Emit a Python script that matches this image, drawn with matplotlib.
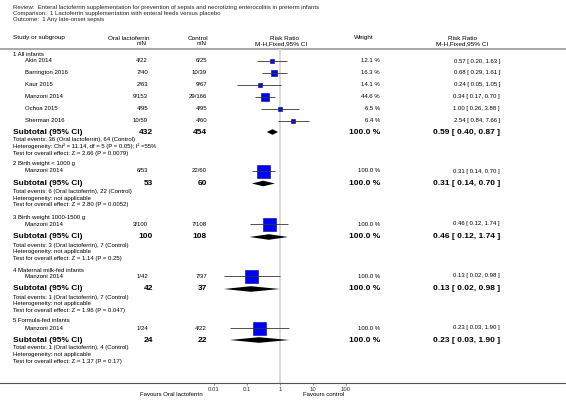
import matplotlib
matplotlib.use("Agg")
import matplotlib.pyplot as plt
import numpy as np

plt.rcParams["font.family"] = ["Liberation Sans", "DejaVu Sans"]

# ---- data ----
review = "Review:  Enteral lactoferrin supplementation for prevention of sepsis and necrotizing enterocolitis in preterm infants"
comparison = "Comparison:  1 Lactoferrin supplementation with enteral feeds versus placebo"
outcome = "Outcome:  1 Any late-onset sepsis"

group_titles = ["1 All infants", "2 Birth weight < 1000 g", "3 Birth weight 1000-1500 g",
                "4 Maternal milk-fed infants", "5 Formula-fed infants"]

studies = [
    ["Akin 2014", "Barrington 2016", "Kaur 2015", "Manzoni 2014", "Ochoa 2015", "Sherman 2016"],
    ["Manzoni 2014"], ["Manzoni 2014"], ["Manzoni 2014"], ["Manzoni 2014"],
]
treat_nN = [["4/22", "7/40", "2/63", "9/153", "4/95", "10/59"], ["6/53"], ["3/100"], ["1/42"], ["1/24"]]
ctrl_nN = [["6/25", "10/39", "9/67", "29/166", "4/95", "4/60"], ["22/60"], ["7/108"], ["7/37"], ["4/22"]]
weights = [[12.1, 16.3, 14.1, 44.6, 6.5, 6.4], [100.0], [100.0], [100.0], [100.0]]
rr = [[0.57, 0.68, 0.24, 0.34, 1.00, 2.54], [0.31], [0.46], [0.13], [0.23]]
rr_lo = [[0.20, 0.29, 0.05, 0.17, 0.26, 0.84], [0.14], [0.12], [0.02], [0.03]]
rr_hi = [[1.63, 1.61, 1.05, 0.70, 3.88, 7.66], [0.70], [1.74], [0.98], [1.90]]

sub_treat_N = [432, 53, 100, 42, 24]
sub_ctrl_N = [454, 60, 108, 37, 22]
sub_rr = [0.59, 0.31, 0.46, 0.13, 0.23]
sub_lo = [0.40, 0.14, 0.12, 0.02, 0.03]
sub_hi = [0.87, 0.70, 1.74, 0.98, 1.90]

footnotes = [
    ["Total events: 36 (Oral lactoferrin), 64 (Control)",
     "Heterogeneity: Chi\u00b2 = 11.14, df = 5 (P = 0.05); I\u00b2 =55%",
     "Test for overall effect: Z = 2.66 (P = 0.0079)"],
    ["Total events: 6 (Oral lactoferrin), 22 (Control)",
     "Heterogeneity: not applicable",
     "Test for overall effect: Z = 2.80 (P = 0.0052)"],
    ["Total events: 3 (Oral lactoferrin), 7 (Control)",
     "Heterogeneity: not applicable",
     "Test for overall effect: Z = 1.14 (P = 0.25)"],
    ["Total events: 1 (Oral lactoferrin), 7 (Control)",
     "Heterogeneity: not applicable",
     "Test for overall effect: Z = 1.96 (P = 0.047)"],
    ["Total events: 1 (Oral lactoferrin), 4 (Control)",
     "Heterogeneity: not applicable",
     "Test for overall effect: Z = 1.37 (P = 0.17)"],
]

tick_vals = [0.01, 0.1, 1, 10, 100]
tick_labels = ["0.01", "0.1", "1", "10", "100"]

# ---- layout (pixels) ----
W, H = 566, 413
AXIS_Y = 383
X_ONE = 280
DECADE = 33
group_y = [54, 164, 218, 270, 321]
study_y = [[61, 72.5, 84.5, 96.5, 108.5, 120.5], [171], [224], [276], [328]]
sub_y = [132, 183.5, 237, 289, 340]
FOOT_DY = 6.6

FS = 4.3
FS_B = 6.0
col_study = 13
col_ind = 25
col_t = 148
col_c = 207
col_w = 380
col_rr = 500

fig = plt.figure(figsize=(W / 100, H / 100), dpi=100)
ax0 = fig.add_axes([0, 0, 1, 1])
ax0.set_xlim(0, W)
ax0.set_ylim(H, 0)
ax0.axis("off")

ax = fig.add_axes([0, (H - AXIS_Y) / H, 1, AXIS_Y / H])
ax.patch.set_alpha(0)
ax.set_xscale("log")
ax.set_xlim(10 ** (-X_ONE / DECADE), 10 ** ((W - X_ONE) / DECADE))
ax.set_ylim(AXIS_Y, 0)
for s in ["top", "left", "right"]:
    ax.spines[s].set_visible(False)
ax.spines["bottom"].set_color("#555555")
ax.spines["bottom"].set_linewidth(0.8)
ax.set_yticks([])
ax.set_xticks(tick_vals)
ax.set_xticklabels(tick_labels, fontsize=FS)
ax.minorticks_off()
ax.tick_params(axis="x", length=1.5, width=0.5, pad=1.5, colors="#555555", labelcolor="#333333")

# header
ax0.text(col_study, 7, review, fontsize=FS, va="center", color="#222222")
ax0.text(col_study, 13, comparison, fontsize=FS, va="center", color="#222222")
ax0.text(col_study, 19, outcome, fontsize=FS, va="center", color="#222222")

ax0.text(col_study, 38, "Study or subgroup", fontsize=FS + 0.3, va="center")
ax0.text(col_t + 1, 38, "Oral lactoferrin", fontsize=FS + 0.3, va="center", ha="right")
ax0.text(col_t - 1, 43.5, "n/N", fontsize=FS + 0.3, va="center", ha="right")
ax0.text(col_c + 1, 38, "Control", fontsize=FS + 0.3, va="center", ha="right")
ax0.text(col_c, 43.5, "n/N", fontsize=FS + 0.3, va="center", ha="right")
ax0.text(284, 38, "Risk Ratio", fontsize=FS + 0.3, va="center", ha="center")
ax0.text(281, 43.5, "M-H,Fixed,95% CI", fontsize=FS + 0.3, va="center", ha="center")
ax0.text(364, 38, "Weight", fontsize=FS + 0.3, va="center", ha="center")
ax0.text(462, 38, "Risk Ratio", fontsize=FS + 0.3, va="center", ha="center")
ax0.text(462, 43.5, "M-H,Fixed,95% CI", fontsize=FS + 0.3, va="center", ha="center")
ax0.hlines(48.5, 0, W, color="#9a9a9a", lw=1.2)

# line of no effect
ax.vlines(1, 49, AXIS_Y, color="#d8d8d8", lw=1.3, zorder=0)

for g in range(len(group_titles)):
    ax0.text(col_study, group_y[g], group_titles[g], fontsize=FS, va="center")
    for i in range(len(studies[g])):
        y = study_y[g][i]
        ax0.text(col_ind, y, studies[g][i], fontsize=FS, va="center")
        ax0.text(col_t, y, treat_nN[g][i], fontsize=FS, va="center", ha="right")
        ax0.text(col_c, y, ctrl_nN[g][i], fontsize=FS, va="center", ha="right")
        ax0.text(col_w, y, f"{weights[g][i]:.1f} %", fontsize=FS, va="center", ha="right")
        ax0.text(col_rr, y, f"{rr[g][i]:.2f} [ {rr_lo[g][i]:.2f}, {rr_hi[g][i]:.2f} ]",
                 fontsize=FS, va="center", ha="right")
        side = 13 * np.sqrt(weights[g][i] / 100) * 0.72
        ax.plot(rr[g][i], y, "s", ms=side, mfc="#0000ff", mec="#00008b", mew=0.4, zorder=2)
        ax.hlines(y, rr_lo[g][i], rr_hi[g][i], color="#333333", lw=0.6, zorder=3)

    y = sub_y[g]
    ax0.text(col_study, y, "Subtotal (95% CI)", fontsize=FS_B, va="center", fontweight="bold")
    ax0.text(col_t + 5, y, str(sub_treat_N[g]), fontsize=FS_B, va="center", ha="right", fontweight="bold")
    ax0.text(col_c, y, str(sub_ctrl_N[g]), fontsize=FS_B, va="center", ha="right", fontweight="bold")
    ax0.text(col_w, y, "100.0 %", fontsize=FS_B, va="center", ha="right", fontweight="bold")
    ax0.text(col_rr, y, f"{sub_rr[g]:.2f} [ {sub_lo[g]:.2f}, {sub_hi[g]:.2f} ]",
             fontsize=FS_B, va="center", ha="right", fontweight="bold")
    h = 2.8
    ax.fill([sub_lo[g], sub_rr[g], sub_hi[g], sub_rr[g]], [y, y - h, y, y + h],
            color="black", lw=0, zorder=3)
    for k, line in enumerate(footnotes[g]):
        ax0.text(col_study, y + 8 + k * FOOT_DY, line, fontsize=FS, va="center")

ax0.text(203, 395, "Favours Oral lactoferrin", fontsize=FS, va="center", ha="right")
ax0.text(303, 395, "Favours control", fontsize=FS, va="center", ha="left")

fig.savefig("out.png", dpi=100)
